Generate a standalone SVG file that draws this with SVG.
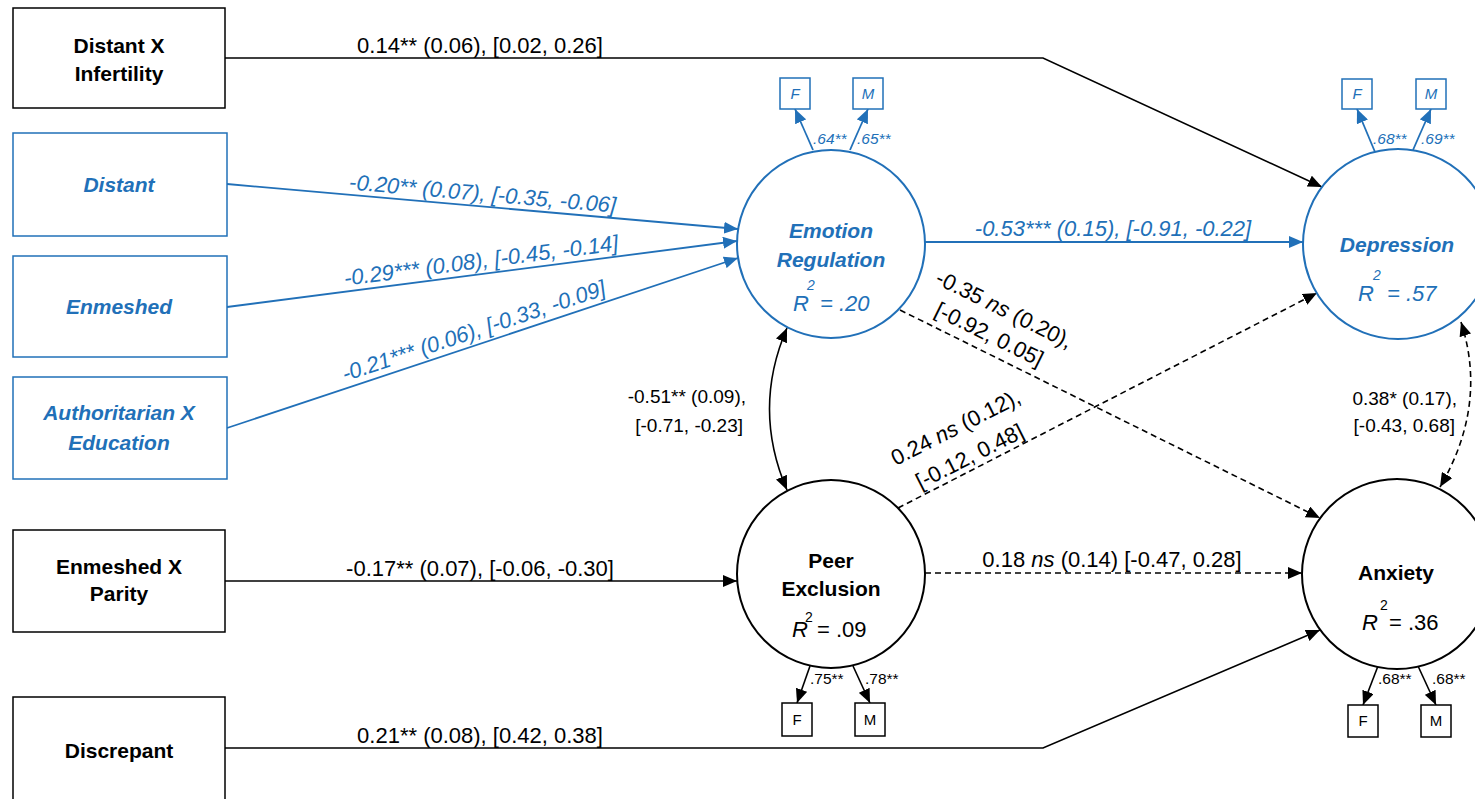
<svg xmlns="http://www.w3.org/2000/svg" width="1475" height="799" viewBox="0 0 1475 799">
<style>
.bx{fill:#fff;stroke:#000;stroke-width:1.5}
.bxb{fill:#fff;stroke:#2170b8;stroke-width:1.5}
.cb{fill:#fff;stroke:#2170b8;stroke-width:2}
.ck{fill:#fff;stroke:#000;stroke-width:2}
.lk{fill:none;stroke:#000;stroke-width:1.6}
.lb{fill:none;stroke:#2170b8;stroke-width:1.8}
.dash{stroke-dasharray:6,4}
text{font-family:"Liberation Sans",Arial,sans-serif}
.bt{font-size:21px;font-weight:bold;fill:#000;text-anchor:middle}
.btb{font-size:21px;font-weight:bold;font-style:italic;fill:#2170b8;text-anchor:middle}
.el{font-size:22px;fill:#000;text-anchor:middle}
.elb{font-size:22px;font-style:italic;fill:#2170b8;text-anchor:middle}
.cl{font-size:19px;fill:#000}
.il{font-size:15.5px;fill:#000}
.ilb{font-size:15.5px;font-style:italic;fill:#2170b8}
.r2{font-size:22px;fill:#000}
.r2b{font-size:22px;font-style:italic;fill:#2170b8}
.sup{font-size:14px}
.ib{font-size:15px;fill:#000;text-anchor:middle}
.ibb{font-size:15px;font-style:italic;fill:#2170b8;text-anchor:middle}
</style>
<defs>
<marker id="ak" viewBox="0 0 14 12" refX="14" refY="6" markerWidth="14" markerHeight="12" markerUnits="userSpaceOnUse" orient="auto-start-reverse"><path d="M0,0 L14,6 L0,12 z" fill="#000"/></marker>
<marker id="ab" viewBox="0 0 14 12" refX="14" refY="6" markerWidth="14" markerHeight="12" markerUnits="userSpaceOnUse" orient="auto-start-reverse"><path d="M0,0 L14,6 L0,12 z" fill="#2170b8"/></marker>
</defs>
<rect width="1475" height="799" fill="#fff"/>

<g id="connectors">
  <path class="lk" d="M225,58 L1043,58 L1322,187" marker-end="url(#ak)"/>
  <text class="el" x="480" y="53">0.14** (0.06), [0.02, 0.26]</text>
  <path class="lb" d="M227,184 L738,229" marker-end="url(#ab)"/>
  <text class="elb" transform="translate(482,201) rotate(5)">-0.20** (0.07), [-0.35, -0.06]</text>
  <path class="lb" d="M227,307 L737,241" marker-end="url(#ab)"/>
  <text class="elb" transform="translate(482,268) rotate(-7.4)">-0.29*** (0.08), [-0.45, -0.14]</text>
  <path class="lb" d="M227,428 L738,258" marker-end="url(#ab)"/>
  <text class="elb" transform="translate(476,338) rotate(-18.4)">-0.21*** (0.06), [-0.33, -0.09]</text>
  <path class="lb" d="M925,242 L1303,242" marker-end="url(#ab)"/>
  <text class="elb" x="1113" y="236">-0.53*** (0.15), [-0.91, -0.22]</text>
  <path class="lk dash" d="M900,310 L1320,518" marker-end="url(#ak)"/>
  <text class="el" transform="translate(1001,316) rotate(26.3)">-0.35 <tspan font-style="italic">ns</tspan> (0.20),</text>
  <text class="el" transform="translate(986,341) rotate(26.3)">[-0.92, 0.05]</text>
  <path class="lk dash" d="M898,508 L1317,293" marker-end="url(#ak)"/>
  <text class="el" transform="translate(959,434) rotate(-26.8)">0.24 <tspan font-style="italic">ns</tspan> (0.12),</text>
  <text class="el" transform="translate(973,463) rotate(-26.8)">[-0.12, 0.48]</text>
  <path class="lk" d="M787,328 Q752,409 787,490" marker-start="url(#ak)" marker-end="url(#ak)"/>
  <text class="cl" x="746" y="403" text-anchor="end">-0.51** (0.09),</text>
  <text class="cl" x="743" y="432" text-anchor="end">[-0.71, -0.23]</text>
  <path class="lk dash" d="M1461,322 Q1488,405 1440,487" marker-start="url(#ak)" marker-end="url(#ak)"/>
  <text class="cl" x="1457" y="405" text-anchor="end">0.38* (0.17),</text>
  <text class="cl" x="1455" y="432" text-anchor="end">[-0.43, 0.68]</text>
  <path class="lk" d="M225,581 L737,581" marker-end="url(#ak)"/>
  <text class="el" x="480" y="576">-0.17** (0.07), [-0.06, -0.30]</text>
  <path class="lk dash" d="M925,573 L1302,573" marker-end="url(#ak)"/>
  <text class="el" x="1112" y="567">0.18 <tspan font-style="italic">ns</tspan> (0.14) [-0.47, 0.28]</text>
  <path class="lk" d="M225,748 L1043,748 L1320,630" marker-end="url(#ak)"/>
  <text class="el" x="480" y="743">0.21** (0.08), [0.42, 0.38]</text>
  <path class="lb" d="M813,150 L795,109" marker-end="url(#ab)"/>
  <path class="lb" d="M850,150 L868,109" marker-end="url(#ab)"/>
  <text class="ilb" x="813" y="144">.64**</text>
  <text class="ilb" x="857" y="144">.65**</text>
  <path class="lb" d="M1375,152 L1357,109" marker-end="url(#ab)"/>
  <path class="lb" d="M1413,150 L1431,109" marker-end="url(#ab)"/>
  <text class="ilb" x="1373" y="144">.68**</text>
  <text class="ilb" x="1421" y="144">.69**</text>
  <path class="lk" d="M810,666 L797,703" marker-end="url(#ak)"/>
  <path class="lk" d="M853,666 L870,703" marker-end="url(#ak)"/>
  <text class="il" x="810" y="684">.75**</text>
  <text class="il" x="865" y="684">.78**</text>
  <path class="lk" d="M1378,666 L1363,705" marker-end="url(#ak)"/>
  <path class="lk" d="M1418,666 L1436,705" marker-end="url(#ak)"/>
  <text class="il" x="1378" y="684">.68**</text>
  <text class="il" x="1432" y="684">.68**</text>
</g>

<g id="distant-x-infertility">
  <rect class="bx" x="13" y="8" width="212" height="100"/>
  <text class="bt" x="119" y="53">Distant X</text>
  <text class="bt" x="119" y="81">Infertility</text>
</g>
<g id="distant">
  <rect class="bxb" x="13" y="133" width="214" height="103"/>
  <text class="btb" x="119" y="192">Distant</text>
</g>
<g id="enmeshed">
  <rect class="bxb" x="13" y="256" width="214" height="101"/>
  <text class="btb" x="119" y="314">Enmeshed</text>
</g>
<g id="authoritarian-x-education">
  <rect class="bxb" x="13" y="377" width="214" height="102"/>
  <text class="btb" x="119" y="420">Authoritarian X</text>
  <text class="btb" x="119" y="450">Education</text>
</g>
<g id="enmeshed-x-parity">
  <rect class="bx" x="13" y="530" width="212" height="102"/>
  <text class="bt" x="119" y="574">Enmeshed X</text>
  <text class="bt" x="119" y="601">Parity</text>
</g>
<g id="discrepant">
  <rect class="bx" x="13" y="697" width="212" height="110"/>
  <text class="bt" x="119" y="758">Discrepant</text>
</g>

<g id="emotion-regulation">
  <circle class="cb" cx="831" cy="244" r="94"/>
  <text class="btb" x="831" y="238">Emotion</text>
  <text class="btb" x="831" y="267">Regulation</text>
  <text class="r2b" x="793" y="311">R</text>
  <text class="r2b sup" x="807" y="290">2</text>
  <text class="r2b" x="820" y="311">= .20</text>
</g>
<g id="depression">
  <circle class="cb" cx="1398" cy="244" r="95"/>
  <text class="btb" x="1397" y="252">Depression</text>
  <text class="r2b" x="1358" y="301">R</text>
  <text class="r2b sup" x="1373" y="280">2</text>
  <text class="r2b" x="1387" y="301">= .57</text>
</g>
<g id="peer-exclusion">
  <circle class="ck" cx="831" cy="574" r="94"/>
  <text class="bt" x="831" y="568">Peer</text>
  <text class="bt" x="831" y="596">Exclusion</text>
  <text class="r2" x="792" y="637" font-style="italic">R</text>
  <text class="r2 sup" x="805" y="622">2</text>
  <text class="r2" x="817" y="637">= .09</text>
</g>
<g id="anxiety">
  <circle class="ck" cx="1397" cy="574" r="95"/>
  <text class="bt" x="1396" y="580">Anxiety</text>
  <text class="r2" x="1362" y="630" font-style="italic">R</text>
  <text class="r2 sup" x="1380" y="610">2</text>
  <text class="r2" x="1389" y="630">= .36</text>
</g>

<g id="er-f"><rect class="bxb" x="780" y="78" width="30" height="31"/><text class="ibb" x="795" y="99">F</text></g>
<g id="er-m"><rect class="bxb" x="853" y="78" width="30" height="31"/><text class="ibb" x="868" y="99">M</text></g>
<g id="dep-f"><rect class="bxb" x="1342" y="79" width="30" height="30"/><text class="ibb" x="1357" y="99">F</text></g>
<g id="dep-m"><rect class="bxb" x="1416" y="79" width="30" height="30"/><text class="ibb" x="1431" y="99">M</text></g>
<g id="pe-f"><rect class="bx" x="782" y="703" width="30" height="33"/><text class="ib" x="797" y="725">F</text></g>
<g id="pe-m"><rect class="bx" x="855" y="703" width="30" height="33"/><text class="ib" x="870" y="725">M</text></g>
<g id="anx-f"><rect class="bx" x="1348" y="705" width="30" height="32"/><text class="ib" x="1363" y="726">F</text></g>
<g id="anx-m"><rect class="bx" x="1421" y="705" width="30" height="32"/><text class="ib" x="1436" y="726">M</text></g>
</svg>
